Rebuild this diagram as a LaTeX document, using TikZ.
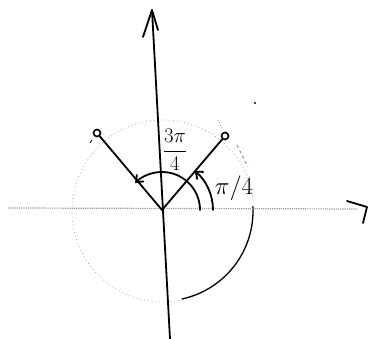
\documentclass[tikz,border=0pt]{standalone}
\usetikzlibrary{arrows.meta}
\begin{document}
\begin{tikzpicture}[x=1pt,y=1pt,
  ink/.style={line width=1.8pt,line cap=round,line join=round},
  faint/.style={gray!70,line width=0.8pt,dotted},
  pt/.style={circle,draw,line width=1.6pt,inner sep=0pt,minimum size=7pt},
  arcarrow/.style={ink,-{Straight Barb[length=6pt,width=10pt]}}]
\useasboundingbox (0,0) rectangle (375,339);
% origin and named points
\coordinate (O) at (162,129);
\coordinate (ytop) at (152,329);
\coordinate (ybot) at (170,0);
\coordinate (xl) at (8,131);
\coordinate (xr) at (357,130);
\node[pt] (Q) at (97,206) {};
\node[pt] (B) at (225,203) {};
% dotted circle
\draw[faint,dash pattern=on 0.8pt off 3pt] (163,128) ++(-80:91) arc[start angle=-80,end angle=-355,radius=91];
% solid lower-right part of circle
\draw[line width=1.3pt] (163,128) ++(3:90) arc[start angle=3,end angle=-78,radius=90];
\draw[gray,line width=0.8pt,dashed] (237,194) -- (248,172);
% horizontal axis (dotted)
\draw[gray!80,line width=1.2pt,densely dotted] (xl) -- (xr);
\draw[ink] (347,138) -- (367,132) -- (363,116);
% vertical axis
\draw[ink] (ybot) -- (ytop);
\draw[ink] (143,302) -- (ytop) -- (158,309);
% rays
\draw[ink] (Q) -- (O);
\draw[ink] (B) -- (O);
% angle arcs
\draw[arcarrow] (O) ++(0:38) arc[start angle=0,end angle=135,radius=38];
\draw[arcarrow] (O) ++(0:51) arc[start angle=0,end angle=50,radius=51];
% labels
\node[inner sep=0pt] (l1) at (175,189) {\fontsize{20}{24}\selectfont$\displaystyle\frac{3\pi}{4}$};
\node[inner sep=0pt] (l2) at (234,151) {\fontsize{32}{38}\selectfont$\pi/4$};
% stray marks
\fill (255,236) circle (1.2pt);
\draw[gray,line width=0.8pt,dotted] (218,219) -- (222,211);
\draw[line width=0.8pt] (90,196) -- (92,199);
\end{tikzpicture}
\end{document}
